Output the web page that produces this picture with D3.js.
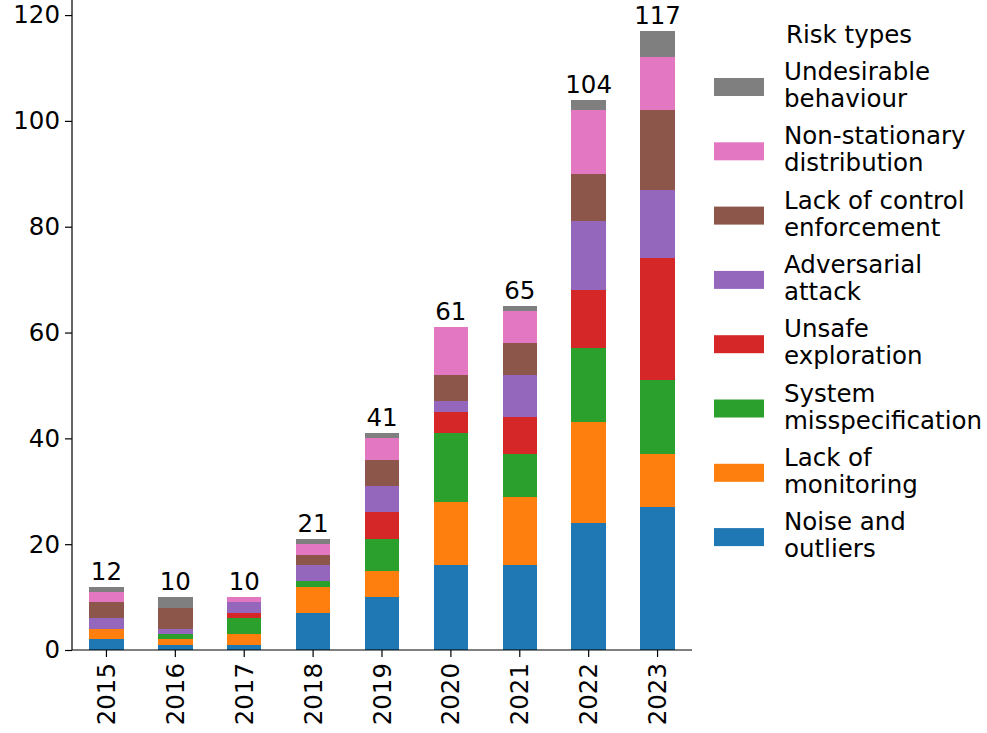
<!DOCTYPE html>
<html>
<head>
<meta charset="utf-8">
<script src="https://cdn.jsdelivr.net/npm/d3@7"></script>
<style>
  body { margin: 0; background: #fff; }
  text { font-family: "DejaVu Sans", sans-serif; fill: #000; }
</style>
</head>
<body>
<div id="chart"></div>
<script>
// data
const years = ["2015", "2016", "2017", "2018", "2019", "2020", "2021", "2022", "2023"]

const riskTypes = ["Noise and outliers", "Lack of monitoring", "System misspecification",
  "Unsafe exploration", "Adversarial attack", "Lack of control enforcement",
  "Non-stationary distribution", "Undesirable behaviour"]

const noise         = [2, 1, 1, 7, 10, 16, 16, 24, 27]
const monitoring    = [2, 1, 2, 5, 5, 12, 13, 19, 10]
const misspec       = [0, 1, 3, 1, 6, 13, 8, 14, 14]
const unsafe        = [0, 0, 1, 0, 5, 4, 7, 11, 23]
const adversarial   = [2, 1, 2, 3, 5, 2, 8, 13, 13]
const control       = [3, 4, 0, 2, 5, 5, 6, 9, 15]
const nonstationary = [2, 0, 1, 2, 4, 9, 6, 12, 10]
const undesirable   = [1, 2, 0, 1, 1, 0, 1, 2, 5]

const series = [noise, monitoring, misspec, unsafe, adversarial, control, nonstationary, undesirable]
const yTicks = [0, 20, 40, 60, 80, 100, 120]
const colors = ["#1f77b4", "#ff7f0e", "#2ca02c", "#d62728", "#9467bd", "#8c564b", "#e377c2", "#7f7f7f"]

// legend labels are wrapped on two lines like the original
const legendLines = [["Noise and", "outliers"], ["Lack of", "monitoring"], ["System", "misspecification"],
  ["Unsafe", "exploration"], ["Adversarial", "attack"], ["Lack of control", "enforcement"],
  ["Non-stationary", "distribution"], ["Undesirable", "behaviour"]]

const W = 987, H = 733
const plot = {left: 72, right: 692, top: 0, bottom: 650}
const fs = 24.5

const svg = d3.select("#chart").append("svg")
  .attr("width", W).attr("height", H)

// build rows for the stack
const rows = years.map((y, i) => {
  let r = {year: y}
  riskTypes.forEach((k, j) => r[k] = series[j][i])
  return r
})
const totals = years.map((y, i) => d3.sum(series, s => s[i]))

const stack = d3.stack().keys(riskTypes)(rows)

const x = d3.scaleBand().domain(years).range([plot.left, plot.right]).paddingInner(0.5).paddingOuter(0.25)
const y = d3.scaleLinear().domain([0, d3.max(totals) * 1.05]).range([plot.bottom, plot.top])

// bars
svg.append("g").selectAll("g")
  .data(stack)
  .enter()
  .append("g")
    .attr("fill", (d, i) => colors[i])
  .selectAll("rect")
  .data(d => d)
  .enter()
  .append("rect")
    .attr("x", d => x(d.data.year))
    .attr("y", d => y(d[1]))
    .attr("width", x.bandwidth())
    .attr("height", d => y(d[0]) - y(d[1]))
    .attr("shape-rendering", "crispEdges")

// totals on top
svg.append("g").selectAll("text")
  .data(totals)
  .enter()
  .append("text")
    .attr("x", (d, i) => x(years[i]) + x.bandwidth() / 2)
    .attr("y", d => y(d) - 7)
    .attr("text-anchor", "middle")
    .style("font-size", fs + "px")
    .text(d => d)

// axes
const yAxis = svg.append("g")
  .attr("transform", "translate(" + plot.left + ",0)")
  .call(d3.axisLeft(y).tickValues(yTicks).tickSize(7).tickPadding(5))
const xAxis = svg.append("g")
  .attr("transform", "translate(0," + plot.bottom + ")")
  .call(d3.axisBottom(x).tickSize(7).tickPadding(5))

yAxis.select(".domain").attr("d", "M0," + plot.top + "V" + plot.bottom)
xAxis.select(".domain").attr("d", "M" + plot.left + ",0H" + plot.right)

svg.selectAll(".tick line, .domain").attr("stroke", "#000").attr("stroke-width", 1.2)
yAxis.selectAll("text").style("font-size", fs + "px").style("font-family", "DejaVu Sans")
xAxis.selectAll("text")
  .style("font-size", fs + "px").style("font-family", "DejaVu Sans")
  .attr("transform", "rotate(-90)")
  .attr("text-anchor", "end")
  .attr("x", -13).attr("y", 0).attr("dy", "0.35em")

// legend, top item is the last series
const legend = svg.append("g")
legend.append("text")
  .attr("x", 786).attr("y", 43)
  .style("font-size", fs + "px")
  .text("Risk types")

const order = d3.range(riskTypes.length).reverse()
const items = legend.selectAll("g.item")
  .data(order)
  .enter()
  .append("g")
    .attr("class", "item")
    .attr("transform", (d, i) => "translate(714," + (87 + i * 64.3) + ")")

items.append("rect")
  .attr("x", 0).attr("y", -9)
  .attr("width", 50).attr("height", 18)
  .attr("fill", d => colors[d])

items.append("text")
  .attr("x", 70).attr("y", -7)
  .style("font-size", fs + "px")
  .text(d => legendLines[d][0])
items.append("text")
  .attr("x", 70).attr("y", 20)
  .style("font-size", fs + "px")
  .text(d => legendLines[d][1])
</script>
</body>
</html>
